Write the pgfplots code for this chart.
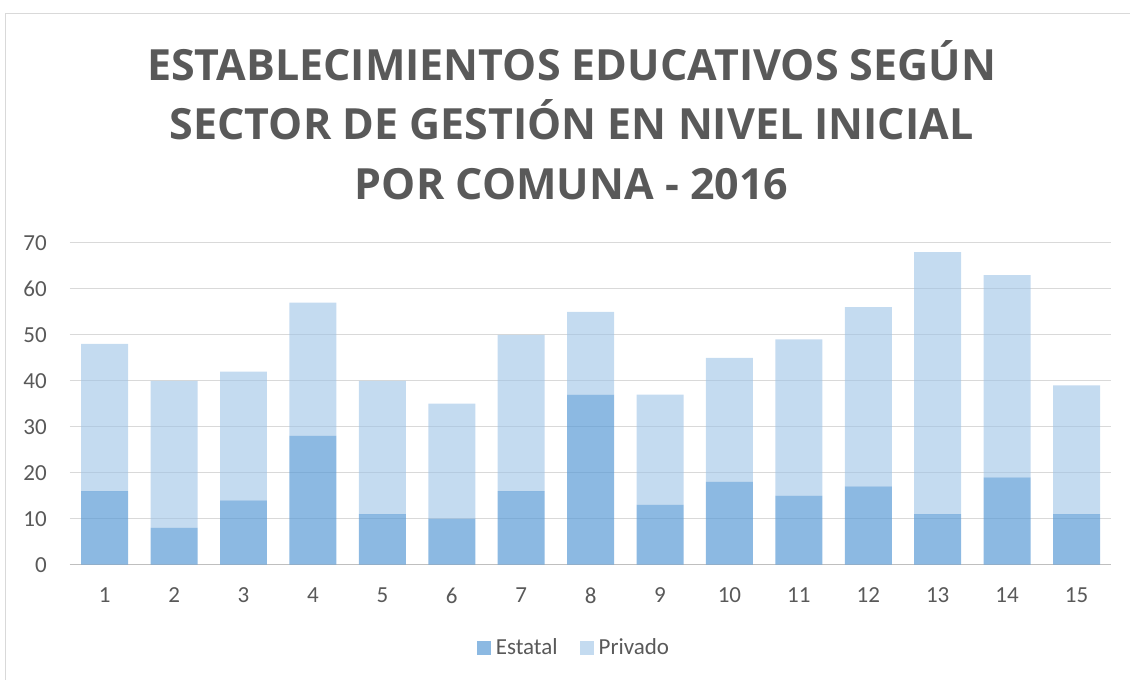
\documentclass[border=0pt]{standalone}
\usepackage{pgfplots}
\pgfplotsset{compat=1.18}
\usepackage{fontspec}
\setmainfont{Carlito}
\newfontfamily\titlefont{Open Sans}
\definecolor{txt}{HTML}{595959}
\definecolor{estatal}{HTML}{5B9BD5}
\definecolor{privado}{HTML}{9DC3E6}
\definecolor{frame}{HTML}{D9D9D9}
\definecolor{gridc}{HTML}{D9D9D9}
\definecolor{axc}{HTML}{BFBFBF}
\begin{document}
\begin{tikzpicture}
\path (0pt,0pt) rectangle (1131pt,680pt);
\draw[color=frame, line width=1.5pt] (5.5pt,0pt) -- (5.5pt,666.5pt) -- (1131pt,666.5pt);
\tikzset{ttl/.style={anchor=base, text=txt, font=\titlefont\fontsize{43}{58}\selectfont\bfseries, inner sep=0pt}}
\node[ttl] at (572pt,599pt) {ESTABLECIMIENTOS EDUCATIVOS SEGÚN};
\node[ttl] at (572pt,540pt) {SECTOR DE GESTIÓN EN NIVEL INICIAL};
\node[ttl] at (572pt,480pt) {POR COMUNA - 2016};
\begin{axis}[
  at={(70pt,115pt)}, anchor=south west,
  scale only axis, width=1042pt, height=322pt,
  xmin=0.5, xmax=15.5, ymin=0, ymax=70,
  ybar stacked, bar width=47pt,
  ytick={0,10,...,70}, xtick={1,...,15},
  /pgf/number format/assume math mode=true,
  ymajorgrids, grid style={color=gridc, line width=1.3pt},
  axis x line*=bottom, axis y line*=left,
  y axis line style={draw=none},
  x axis line style={color=axc, line width=1.5pt, -},
  major tick length=0pt, tick style={draw=none},
  yticklabel style={anchor=east, inner sep=0pt, xshift=-23pt, font=\fontsize{23}{23}\selectfont, text=txt},
  xticklabel style={anchor=north, inner sep=0pt, yshift=-23pt, font=\fontsize{23}{23}\selectfont, text=txt},
  legend style={at={(0.484,-0.258)}, anchor=center, draw=none, fill=none,
    font=\fontsize{23}{23}\selectfont, text=txt,
    /tikz/every odd column/.append style={column sep=3pt},
    /tikz/every even column/.append style={column sep=20pt}},
  legend columns=2,
  legend image code/.code={\fill[#1] (0pt,-7pt) rectangle (14pt,7pt);},
]
\addplot[fill=estatal, fill opacity=0.7, draw=none] coordinates {
(1,16) (2,8) (3,14) (4,28) (5,11) (6,10) (7,16) (8,37) (9,13) (10,18) (11,15) (12,17) (13,11) (14,19) (15,11)};
\addplot[fill=privado, fill opacity=0.6, draw=none] coordinates {
(1,32) (2,32) (3,28) (4,29) (5,29) (6,25) (7,34) (8,18) (9,24) (10,27) (11,34) (12,39) (13,57) (14,44) (15,28)};
\legend{Estatal, Privado}
\end{axis}
\end{tikzpicture}
\end{document}
